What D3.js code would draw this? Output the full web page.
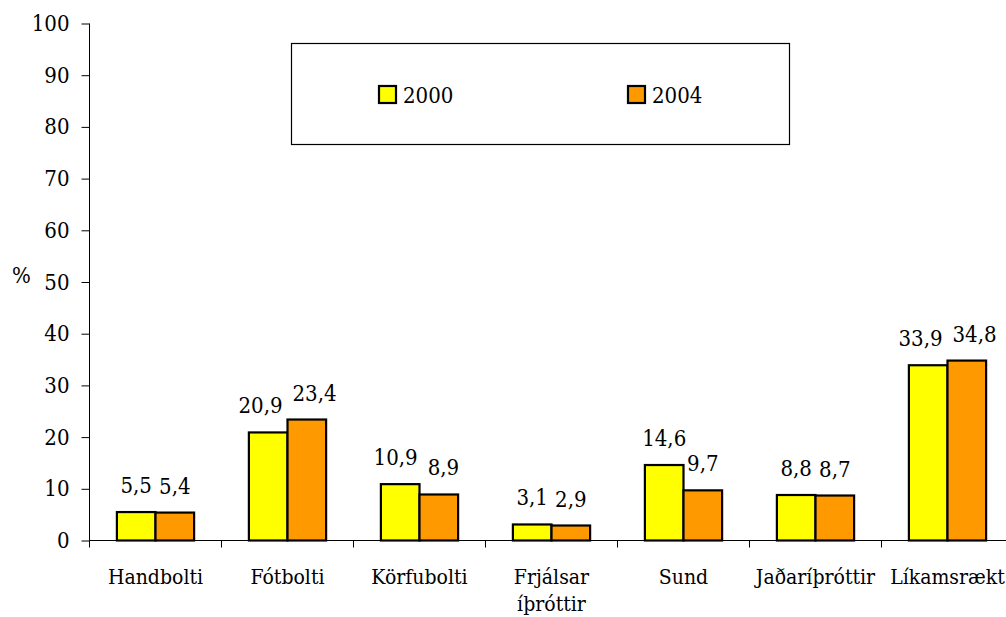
<!DOCTYPE html>
<html>
<head>
<meta charset="utf-8">
<script src="https://cdn.jsdelivr.net/npm/d3@7"></script>
<style>
  html, body { margin: 0; padding: 0; background: #fff; }
  svg { display: block; }
  svg text { font-family: "DejaVu Serif", serif; font-stretch: condensed; fill: #000; }
</style>
</head>
<body>
<svg id="chart" width="1006" height="617"></svg>
<script>
// Share (%) by sport, 2000 vs 2004
const categories = ["Handbolti", "Fótbolti", "Körfubolti", "Frjálsar íþróttir", "Sund", "Jaðaríþróttir", "Líkamsrækt"];
const series = ["2000", "2004"];
const values2000 = [5.5, 20.9, 10.9, 3.1, 14.6, 8.8, 33.9];
const values2004 = [5.4, 23.4, 8.9, 2.9, 9.7, 8.7, 34.8];
const yTicks = [0, 10, 20, 30, 40, 50, 60, 70, 80, 90, 100];
const colors = ["#ffff00", "#ff9900"];

const svg = d3.select("#chart");
const fontSize = 22;
const catFontSize = 21;
const fmt = v => String(v).replace(".", ",");

const x0 = d3.scaleBand().domain(categories).range([89.5, 1013.5]).paddingInner(0).paddingOuter(0);
const groupW = x0.bandwidth() * 0.585;
const x1 = d3.scaleBand().domain(series).range([0, groupW]);
const y = d3.scaleLinear().domain([0, 100]).range([540.5, 23.5]);

const rows = categories.map((c, i) => ({ cat: c, vals: [values2000[i], values2004[i]] }));

// Y axis
const yAxis = d3.axisLeft(y).tickValues(yTicks).tickSize(8).tickPadding(12).tickFormat(d3.format("d"));
const gy = svg.append("g").attr("transform", "translate(89.5,0)").call(yAxis)
  .attr("font-size", fontSize);
gy.select(".domain").attr("d", `M0,${y(100)}V${y(0) + 7}`).attr("stroke", "#000");
gy.selectAll(".tick line").attr("stroke", "#000");

// Axis title
svg.append("text").attr("x", 12).attr("y", 283).attr("font-size", fontSize).text("%");

// X axis: baseline, category separators and (wrapped) labels
const gx = svg.append("g").attr("transform", `translate(0,${y(0)})`);
gx.append("line").attr("x1", 89.5).attr("x2", 1006).attr("stroke", "#000");
categories.forEach(c => {
  const xb = x0(c) + x0.bandwidth();
  gx.append("line").attr("x1", xb).attr("x2", xb).attr("y1", 0).attr("y2", 7).attr("stroke", "#000");
});
categories.forEach(c => {
  const words = c.split(" ");
  const cx = x0(c) + x0.bandwidth() / 2;
  const t = gx.append("text")
    .attr("x", cx)
    .attr("y", 43)
    .attr("text-anchor", "middle")
    .attr("font-size", catFontSize);
  words.forEach((w, i) => {
    t.append("tspan").attr("x", cx).attr("dy", i === 0 ? 0 : 27).text(w);
  });
});

// Bars
const groups = svg.append("g").selectAll("g").data(rows).join("g")
  .attr("transform", d => `translate(${x0(d.cat) + (x0.bandwidth() - groupW) / 2},0)`);

groups.selectAll("rect").data(d => d.vals.map((v, i) => ({ v, s: series[i], i }))).join("rect")
  .attr("x", d => x1(d.s))
  .attr("y", d => y(d.v))
  .attr("width", x1.bandwidth())
  .attr("height", d => y(0) - y(d.v))
  .attr("fill", d => colors[d.i])
  .attr("stroke", "#000")
  .attr("stroke-width", 2.2);

// Value labels, pushed apart when a pair would collide
groups.each(function (d) {
  const g = d3.select(this);
  const labels = d.vals.map((v, i) => g.append("text")
    .attr("x", x1(series[i]) + x1.bandwidth() / 2)
    .attr("y", y(v) - 19)
    .attr("text-anchor", "middle")
    .attr("font-size", fontSize)
    .text(fmt(v)));
  const b0 = labels[0].node().getBBox();
  const b1 = labels[1].node().getBBox();
  const overlapX = (b0.x + b0.width + 4) - b1.x;
  const overlapY = Math.min(b0.y + b0.height, b1.y + b1.height) - Math.max(b0.y, b1.y);
  if (overlapX > 0 && overlapY > 0) {
    const shift = overlapX / 2 + 3;
    labels[0].attr("x", +labels[0].attr("x") - shift);
    labels[1].attr("x", +labels[1].attr("x") + shift);
  }
});

// Legend
const legend = svg.append("g");
legend.append("rect").attr("x", 291.5).attr("y", 43.5).attr("width", 498).attr("height", 101)
  .attr("fill", "#fff").attr("stroke", "#000").attr("stroke-width", 1.2);
const legendX = [379, 628];
series.forEach((s, i) => {
  legend.append("rect").attr("x", legendX[i]).attr("y", 86).attr("width", 17).attr("height", 17)
    .attr("fill", colors[i]).attr("stroke", "#000").attr("stroke-width", 2.2);
  legend.append("text").attr("x", legendX[i] + 24).attr("y", 103).attr("font-size", fontSize).text(s);
});
</script>
</body>
</html>
